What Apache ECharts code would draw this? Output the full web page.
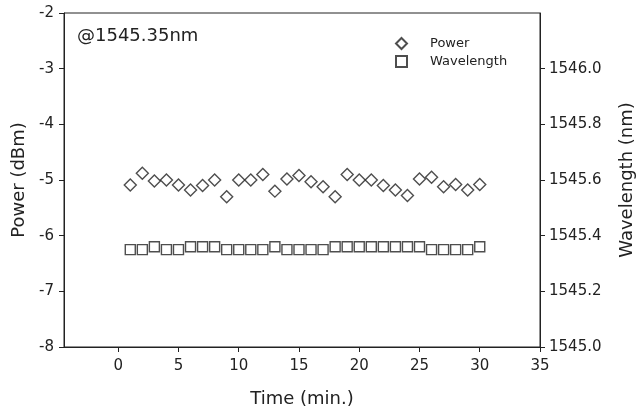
<!DOCTYPE html>
<html>
<head>
<meta charset="utf-8">
<script src="https://cdn.jsdelivr.net/npm/echarts@6/dist/echarts.min.js"></script>
<style>html,body{margin:0;padding:0;background:#fff}#c{width:636px;height:416px}</style>
</head>
<body>
<div id="c"></div>
<script>
var times = [1,2,3,4,5,6,7,8,9,10,11,12,13,14,15,16,17,18,19,20,21,22,23,24,25,26,27,28,29,30];
var power = [-5.09,-4.88,-5.02,-5.0,-5.09,-5.18,-5.1,-5.0,-5.3,-5.0,-5.0,-4.9,-5.2,-4.98,-4.92,-5.03,-5.12,-5.3,-4.9,-5.0,-5.0,-5.1,-5.18,-5.28,-4.98,-4.95,-5.12,-5.08,-5.18,-5.08];
var wavelength = [1545.35,1545.35,1545.36,1545.35,1545.35,1545.36,1545.36,1545.36,1545.35,1545.35,1545.35,1545.35,1545.36,1545.35,1545.35,1545.35,1545.35,1545.36,1545.36,1545.36,1545.36,1545.36,1545.36,1545.36,1545.36,1545.35,1545.35,1545.35,1545.35,1545.36];
var xTicks = [0,5,10,15,20,25,30,35];
var wlTicks = [1545.0,1545.2,1545.4,1545.6,1545.8,1546.0];
var annotation = '@1545.35nm';

var FONT = 'DejaVu Sans';
var INK = '#222';
var chart = echarts.init(document.getElementById('c'), null, {renderer:'canvas'});
chart.setOption({
  animation: false,
  backgroundColor: '#fff',
  textStyle: {fontFamily: FONT, color: INK},
  grid: {left: 64, right: 96, top: 13, bottom: 69, containLabel: false, outerBoundsMode: 'none',
    show: true, borderColor: INK, borderWidth: 1, backgroundColor: 'transparent'},
  legend: {
    orient: 'vertical', left: 390, top: 32, itemWidth: 11, itemHeight: 11, itemGap: 5,
    textStyle: {fontFamily: FONT, fontSize: 13, color: INK, padding: [0,0,0,18]},
    data: ['Power', 'Wavelength']
  },
  graphic: [{type: 'text', left: 77, top: 27, style: {text: annotation, font: '18px "DejaVu Sans"', fill: INK}}],
  xAxis: {
    type: 'value', min: -4.5, max: 35,
    name: 'Time (min.)', nameLocation: 'middle', nameGap: 43,
    nameTextStyle: {fontFamily: FONT, fontSize: 18, color: INK},
    axisLine: {show: true, onZero: false, lineStyle: {color: INK, width: 1}},
    axisTick: {show: true, length: 5, lineStyle: {color: INK}, customValues: xTicks},
    axisLabel: {fontFamily: FONT, fontSize: 15, color: INK, margin: 12, customValues: xTicks},
    splitLine: {show: false}
  },
  yAxis: [{
    type: 'value', min: -8, max: -2, interval: 1, position: 'left',
    name: 'Power (dBm)', nameLocation: 'middle', nameGap: 36, nameRotate: 90,
    nameTextStyle: {fontFamily: FONT, fontSize: 18, color: INK},
    axisLine: {show: true, onZero: false, lineStyle: {color: INK, width: 1}},
    axisTick: {show: true, length: 5, lineStyle: {color: INK}},
    axisLabel: {fontFamily: FONT, fontSize: 15, color: INK, margin: 10},
    splitLine: {show: false}
  }, {
    type: 'value', min: 1545.0, max: 1546.2, interval: 0.2, position: 'right',
    name: 'Wavelength (nm)', nameLocation: 'middle', nameGap: 78, nameRotate: 90,
    nameTextStyle: {fontFamily: FONT, fontSize: 18, color: INK},
    axisLine: {show: true, onZero: false, lineStyle: {color: INK, width: 1}},
    axisTick: {show: true, length: 5, lineStyle: {color: INK}, customValues: wlTicks},
    axisLabel: {fontFamily: FONT, fontSize: 15, color: INK, margin: 9, customValues: wlTicks,
      formatter: function (v) { return v.toFixed(1); }},
    splitLine: {show: false}
  }],
  series: [{
    name: 'Power', type: 'scatter', yAxisIndex: 0, symbol: 'diamond', symbolSize: 12,
    itemStyle: {color: 'rgba(255,255,255,0)', borderColor: INK, borderWidth: 1.4},
    data: times.map(function (t, i) { return [t, power[i]]; })
  }, {
    name: 'Wavelength', type: 'scatter', yAxisIndex: 1, symbol: 'rect', symbolSize: 10,
    itemStyle: {color: 'rgba(255,255,255,0)', borderColor: INK, borderWidth: 1.4},
    data: times.map(function (t, i) { return [t, wavelength[i]]; })
  }]
});
</script>
</body>
</html>
